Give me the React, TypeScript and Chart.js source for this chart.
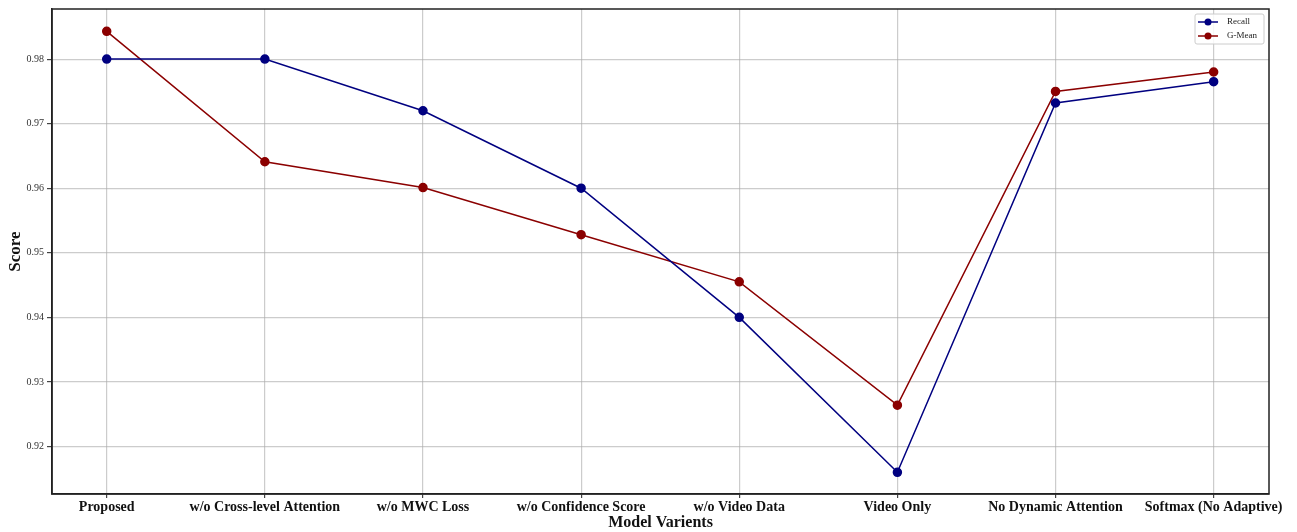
import React, { useEffect, useRef } from 'react';
import { Chart, registerables } from 'chart.js';

Chart.register(...registerables);

const categories = [
  'Proposed',
  'w/o Cross-level Attention',
  'w/o MWC Loss',
  'w/o Confidence Score',
  'w/o Video Data',
  'Video Only',
  'No Dynamic Attention',
  'Softmax (No Adaptive)',
];
const recallValues = [0.98, 0.98, 0.972, 0.96, 0.94, 0.916, 0.9732, 0.9765];
const gmeanValues = [0.9843, 0.9641, 0.9601, 0.9528, 0.9455, 0.9264, 0.975, 0.978];
const yTickValues = [0.92, 0.93, 0.94, 0.95, 0.96, 0.97, 0.98];
const seriesNames = ['Recall', 'G-Mean'];

const SERIF = "'Liberation Serif', 'Times New Roman', serif";
const RECALL_COLOR = '#000080';
const GMEAN_COLOR = '#8B0000';

const framePlugin = {
  id: 'frame',
  afterDraw(chart: any) {
    const { ctx, chartArea } = chart;
    ctx.save();
    ctx.strokeStyle = '#222';
    ctx.lineWidth = 1.5;
    ctx.strokeRect(chartArea.left, chartArea.top, chartArea.right - chartArea.left, chartArea.bottom - chartArea.top);
    ctx.restore();
  },
};

const legendPlugin = {
  id: 'boxLegend',
  afterDraw(chart: any) {
    const { ctx, chartArea } = chart;
    const ds = chart.data.datasets;
    const boxW = 69;
    const boxH = 30;
    const x0 = chartArea.right - 5 - boxW;
    const y0 = chartArea.top + 5;
    ctx.save();
    ctx.fillStyle = 'rgba(255,255,255,0.85)';
    ctx.strokeStyle = '#cccccc';
    ctx.lineWidth = 1;
    const r = 2;
    ctx.beginPath();
    ctx.moveTo(x0 + r, y0);
    ctx.lineTo(x0 + boxW - r, y0);
    ctx.quadraticCurveTo(x0 + boxW, y0, x0 + boxW, y0 + r);
    ctx.lineTo(x0 + boxW, y0 + boxH - r);
    ctx.quadraticCurveTo(x0 + boxW, y0 + boxH, x0 + boxW - r, y0 + boxH);
    ctx.lineTo(x0 + r, y0 + boxH);
    ctx.quadraticCurveTo(x0, y0 + boxH, x0, y0 + boxH - r);
    ctx.lineTo(x0, y0 + r);
    ctx.quadraticCurveTo(x0, y0, x0 + r, y0);
    ctx.closePath();
    ctx.fill();
    ctx.stroke();
    ds.forEach((d: any, i: number) => {
      const cy = y0 + 8 + i * 14;
      ctx.strokeStyle = d.borderColor;
      ctx.lineWidth = 1.5;
      ctx.beginPath();
      ctx.moveTo(x0 + 3, cy);
      ctx.lineTo(x0 + 23, cy);
      ctx.stroke();
      ctx.fillStyle = d.pointBackgroundColor;
      ctx.beginPath();
      ctx.arc(x0 + 13, cy, 3.5, 0, Math.PI * 2);
      ctx.fill();
      ctx.fillStyle = '#222';
      ctx.font = `9px ${SERIF}`;
      ctx.textBaseline = 'middle';
      ctx.textAlign = 'left';
      ctx.fillText(d.label, x0 + 32, cy);
    });
    ctx.restore();
  },
};

export default function App() {
  const ref = useRef<HTMLCanvasElement>(null);
  useEffect(() => {
    document.body.style.margin = '0';
    const chart = new Chart(ref.current!, {
      type: 'line',
      data: {
        datasets: [
          {
            label: seriesNames[0],
            data: recallValues.map((v, i) => ({ x: i, y: v })),
            borderColor: RECALL_COLOR,
            backgroundColor: RECALL_COLOR,
            pointBackgroundColor: RECALL_COLOR,
            pointBorderColor: RECALL_COLOR,
            pointRadius: 4,
            borderWidth: 1.5,
            tension: 0,
          },
          {
            label: seriesNames[1],
            data: gmeanValues.map((v, i) => ({ x: i, y: v })),
            borderColor: GMEAN_COLOR,
            backgroundColor: GMEAN_COLOR,
            pointBackgroundColor: GMEAN_COLOR,
            pointBorderColor: GMEAN_COLOR,
            pointRadius: 4,
            borderWidth: 1.5,
            tension: 0,
          },
        ],
      },
      options: {
        animation: false,
        responsive: true,
        maintainAspectRatio: false,
        layout: { padding: { top: 7, right: 28, left: 0, bottom: 0 } },
        plugins: {
          legend: { display: false },
          tooltip: { enabled: false },
        },
        scales: {
          x: {
            type: 'linear',
            min: -0.346,
            max: 7.35,
            afterBuildTicks(scale: any) {
              scale.ticks = categories.map((_, i) => ({ value: i }));
            },
            afterFit(scale: any) {
              scale.height = 38;
            },
            ticks: {
              autoSkip: false,
              maxRotation: 0,
              padding: 1,
              color: '#111',
              font: { family: SERIF, size: 14, weight: 'bold' },
              callback: (v: any) => categories[v] ?? '',
            },
            grid: { color: 'rgba(170,170,170,0.6)', lineWidth: 1.2, tickLength: 4, tickColor: '#444' },
            border: { color: '#222', width: 1.5 },
            title: {
              display: true,
              text: 'Model Varients',
              color: '#111',
              font: { family: SERIF, size: 16, weight: 'bold' },
              padding: { top: 0, bottom: 0 },
            },
          },
          y: {
            type: 'linear',
            min: 0.91264,
            max: 0.98776,
            afterBuildTicks(scale: any) {
              scale.ticks = yTickValues.map((v) => ({ value: v }));
            },
            afterFit(scale: any) {
              scale.width = 52;
            },
            ticks: {
              padding: 3,
              color: '#333',
              font: { family: SERIF, size: 10 },
              callback: (v: any) => Number(v).toFixed(2),
            },
            grid: { color: 'rgba(170,170,170,0.6)', lineWidth: 1.2, tickLength: 5, tickColor: '#444' },
            border: { color: '#222', width: 1.5 },
            title: {
              display: true,
              text: 'Score',
              color: '#111',
              font: { family: SERIF, size: 17, weight: 'bold' },
              padding: { top: 5, bottom: 0 },
            },
          },
        },
      },
      plugins: [framePlugin, legendPlugin],
    } as any);
    return () => chart.destroy();
  }, []);
  return (
    <div style={{ position: 'relative', width: 1297, height: 532 }}>
      <canvas ref={ref} />
    </div>
  );
}
